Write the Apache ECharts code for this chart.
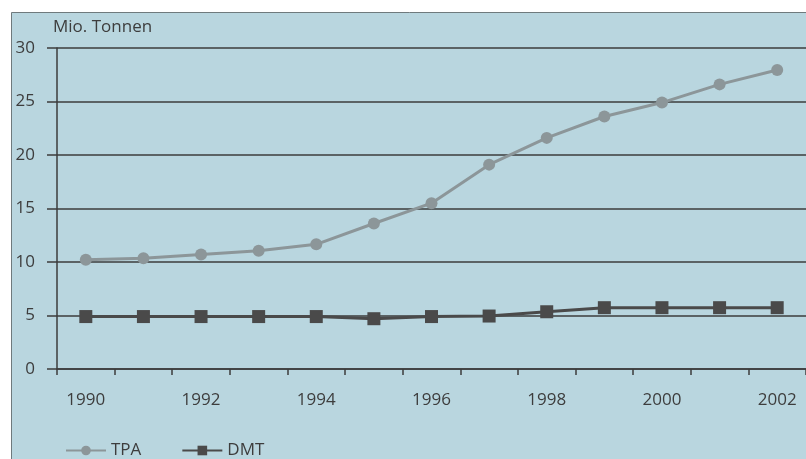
<!DOCTYPE html>
<html>
<head>
<meta charset="utf-8">
<script src="https://cdn.jsdelivr.net/npm/echarts@6/dist/echarts.min.js"></script>
<style>
  html, body { margin: 0; padding: 0; background: #fff; }
  #chart { width: 806px; height: 459px; }
</style>
</head>
<body>
<div id="chart"></div>
<script>
// Produktion TPA / DMT, Mio. Tonnen
const years = ['1990', '1991', '1992', '1993', '1994', '1995', '1996',
  '1997', '1998', '1999', '2000', '2001', '2002'];
const tpaValues = [10.2, 10.35, 10.7, 11.05, 11.65, 13.6, 15.5, 19.1, 21.6, 23.6, 24.9, 26.6, 27.95];
const dmtValues = [4.9, 4.9, 4.9, 4.9, 4.9, 4.7, 4.9, 4.95, 5.35, 5.73, 5.73, 5.73, 5.73];

const textColor = '#3d3d3d';
const fontFamily = '"Open Sans", "Noto Sans", sans-serif';

const chart = echarts.init(document.getElementById('chart'));

const option = {
  backgroundColor: '#fff',
  animation: false,
  textStyle: { fontFamily: fontFamily, color: textColor },
  graphic: [
    {
      type: 'rect',
      z: -10,
      silent: true,
      shape: { x: 11.5, y: 12.5, width: 810, height: 460 },
      style: { fill: '#b9d6df', stroke: '#6f7a7d', lineWidth: 1 }
    }
  ],
  grid: {
    left: 57,
    right: 0,
    top: 48,
    bottom: 90
  },
  legend: {
    left: 60,
    top: 437,
    itemWidth: 40,
    itemHeight: 12,
    itemGap: 40,
    textStyle: { fontSize: 17, color: textColor, fontFamily: fontFamily },
    data: ['TPA', 'DMT']
  },
  xAxis: {
    type: 'category',
    data: years,
    boundaryGap: true,
    axisLine: { lineStyle: { color: '#3d3d3d', width: 1.5 } },
    axisTick: { show: true, interval: 0, length: 6, inside: false, lineStyle: { color: '#3d3d3d', width: 1.5 } },
    axisLabel: {
      interval: 1,
      margin: 23,
      fontSize: 17,
      color: textColor,
      fontFamily: fontFamily
    },
    splitLine: { show: false }
  },
  yAxis: {
    type: 'value',
    min: 0,
    max: 30,
    interval: 5,
    name: 'Mio. Tonnen',
    nameLocation: 'end',
    nameGap: 12,
    nameTextStyle: {
      align: 'left',
      fontSize: 17,
      color: textColor,
      fontFamily: fontFamily,
      padding: [0, 0, 0, -4]
    },
    axisLine: { show: true, lineStyle: { color: '#3d3d3d', width: 1.5 } },
    axisTick: { show: true, length: 10, lineStyle: { color: '#3d3d3d', width: 1.5 } },
    axisLabel: { margin: 22, fontSize: 17, color: textColor, fontFamily: fontFamily },
    splitLine: { show: true, lineStyle: { color: '#3d3d3d', width: 1.5 } }
  },
  series: [
    {
      name: 'TPA',
      type: 'line',
      data: tpaValues,
      symbol: 'circle',
      symbolSize: 12,
      lineStyle: { color: '#8c9699', width: 3 },
      itemStyle: { color: '#8c9699' },
      z: 3
    },
    {
      name: 'DMT',
      type: 'line',
      data: dmtValues,
      symbol: 'rect',
      symbolSize: 13,
      lineStyle: { color: '#4a4a4a', width: 3 },
      itemStyle: { color: '#4a4a4a' },
      z: 4
    }
  ]
};

chart.setOption(option);

window.addEventListener('resize', () => {
  chart.resize();
});
</script>
</body>
</html>
